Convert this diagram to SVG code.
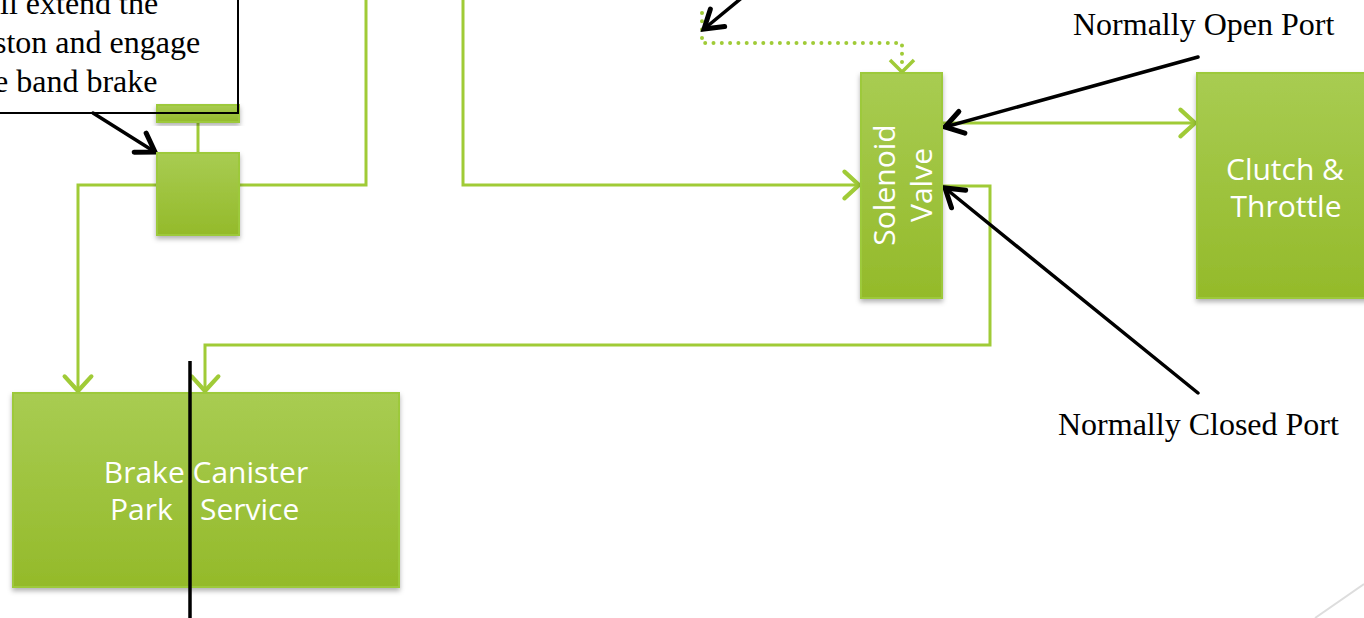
<svg xmlns="http://www.w3.org/2000/svg" width="1364" height="618" viewBox="0 0 1364 618">
  <defs>
    <linearGradient id="gfill" x1="0" y1="0" x2="0" y2="1">
      <stop offset="0" stop-color="#A8CC52"/>
      <stop offset="1" stop-color="#94BA2A"/>
    </linearGradient>
    <filter id="shadow" x="-10%" y="-10%" width="120%" height="130%">
      <feDropShadow dx="0" dy="3" stdDeviation="2.5" flood-color="#000" flood-opacity="0.3"/>
    </filter>
    <marker id="garrow" markerUnits="userSpaceOnUse" markerWidth="34" markerHeight="34" viewBox="-18 -14 22 28" refX="0" refY="0" orient="auto">
      <path d="M-12,-11 L0,0 L-12,11" fill="none" stroke="#A0CB37" stroke-width="3.5" stroke-linecap="round" stroke-linejoin="miter"/>
    </marker>
    <marker id="barrow" markerUnits="userSpaceOnUse" markerWidth="30" markerHeight="30" viewBox="-18 -12 22 24" refX="0" refY="0" orient="auto">
      <path d="M-14,-9 L0,0 L-14,9" fill="none" stroke="#000" stroke-width="4" stroke-linecap="round" stroke-linejoin="miter"/>
    </marker>
  </defs>
  <style>
    .node { fill: url(#gfill); stroke: #9DC93A; stroke-width: 2; filter: url(#shadow); }
    .lbl { font-family: "Open Sans", "DejaVu Sans", sans-serif; font-size: 30px; fill: #ffffff; text-anchor: middle; }
    .note { font-family: "Liberation Serif", "Times New Roman", serif; font-size: 32px; fill: #000; }
    .gline { fill: none; stroke: #A0CB37; stroke-width: 3; stroke-linejoin: miter; }
    .bline { fill: none; stroke: #000; stroke-width: 3.5; stroke-linecap: round; }
  </style>
  <rect width="1364" height="618" fill="#ffffff"/>

  <!-- callout -->
  <g id="callout">
    <rect x="-10" y="-10" width="248" height="123" fill="#ffffff" stroke="none"/>
    <text class="note" x="0" y="14">ll extend the</text>
    <text class="note" x="-6" y="53">ston and engage</text>
    <text class="note" x="-6" y="92">e band brake</text>
  </g>

  <!-- connectors -->
  <g id="connectors">
    <path class="gline" d="M198,122 V153"/>
    <path class="gline" d="M157,185 H78 V391" marker-end="url(#garrow)"/>
    <path class="gline" d="M239,185 H366 V-5"/>
    <path class="gline" d="M463,-5 V185 H859" marker-end="url(#garrow)"/>
    <path class="gline" d="M943,123 H1195" marker-end="url(#garrow)"/>
    <path class="gline" d="M943,186 H990 V345 H205 V391" marker-end="url(#garrow)"/>
    <path fill="none" stroke="#A0CB37" stroke-width="4" stroke-linecap="round" stroke-dasharray="0 8.3" d="M702,13 V43 H902 V66"/>
    <path fill="none" stroke="#A0CB37" stroke-width="3.5" d="M890,60 L902,72 L914,60"/>
    <path class="bline" d="M93,113 L155,152" marker-end="url(#barrow)"/>
    <path class="bline" d="M1198,57 L945,127" marker-end="url(#barrow)"/>
    <path class="bline" d="M1198,393 L945,188" marker-end="url(#barrow)"/>
    <path class="bline" d="M744,-4 L704,29" marker-end="url(#barrow)"/>
  </g>

  <g id="piston-bar">
    <rect class="node" x="157" y="105" width="82" height="17"/>
  </g>
  <rect x="-10" y="-10" width="248" height="123" fill="none" stroke="#000" stroke-width="2"/>

  <g id="piston">
    <rect class="node" x="157" y="153" width="82" height="82"/>
  </g>

  <g id="solenoid-valve">
    <rect class="node" x="861" y="73" width="81" height="225"/>
    <g transform="translate(901,185) rotate(-90)">
      <text class="lbl" x="0" y="-6">Solenoid</text>
      <text class="lbl" x="0" y="31">Valve</text>
    </g>
  </g>

  <g id="clutch-throttle">
    <rect class="node" x="1197" y="73" width="180" height="225"/>
    <text class="lbl" x="1285" y="180">Clutch &amp;</text>
    <text class="lbl" x="1286" y="217">Throttle</text>
  </g>

  <g id="brake-canister">
    <rect class="node" x="13" y="393" width="386" height="194"/>
    <text class="lbl" x="206" y="483">Brake Canister</text>
    <text class="lbl" y="520" style="text-anchor:start"><tspan x="110">Park</tspan><tspan x="200">Service</tspan></text>
  </g>
  <path d="M190,361 V618" fill="none" stroke="#000" stroke-width="3.5"/>

  <g id="labels">
    <text class="note" x="1073" y="35">Normally Open Port</text>
    <text class="note" x="1058" y="435">Normally Closed Port</text>
  </g>

  <path d="M1315,618 L1364,584" fill="none" stroke="#DDDDDD" stroke-width="2"/>
</svg>
